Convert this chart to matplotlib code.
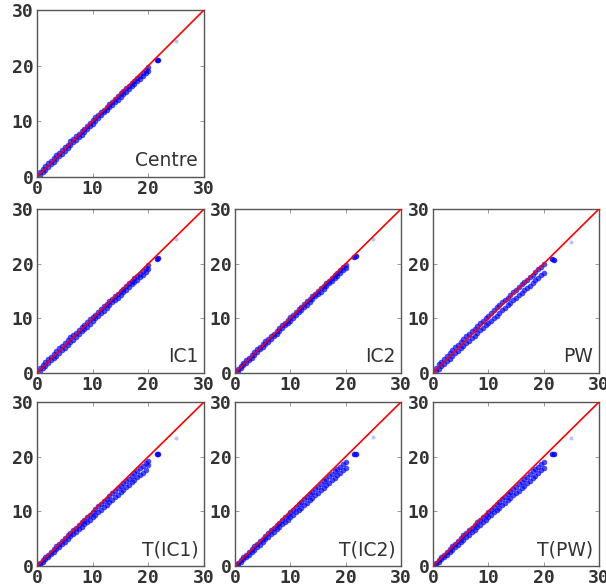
import matplotlib
matplotlib.use("Agg")
import matplotlib.pyplot as plt

xs = [0.5,1.0,1.5,2.0,2.5,3.0,3.5,4.0,4.5,5.0,5.5,6.0,6.5,7.0,7.5,8.0,8.5,9.0,9.5,10.0,
      10.5,11.0,11.5,12.0,12.5,13.0,13.5,14.0,14.5,15.0,15.5,16.0,16.5,17.0,17.5,18.0,18.5,19.0,19.5,20.0]
out_x = [21.5, 21.8, 25.0]

labels = ["Centre", "IC1", "IC2", "PW", "T(IC1)", "T(IC2)", "T(PW)"]

y_hi = {
 "Centre": [0.9,1.4,1.9,2.5,2.9,3.4,3.9,4.4,4.8,5.3,5.8,6.4,6.8,7.3,7.8,8.3,8.7,9.2,9.7,10.2,
            10.7,11.2,11.7,12.1,12.6,13.1,13.5,14.0,14.5,15.0,15.4,15.9,16.4,16.8,17.3,17.8,18.2,18.7,19.2,19.7],
 "IC1": [0.9,1.5,2.0,2.5,3.0,3.5,4.0,4.5,5.0,5.5,6.0,6.5,6.9,7.4,7.9,8.4,8.8,9.3,9.8,10.3,
         10.7,11.2,11.7,12.2,12.6,13.1,13.6,14.0,14.5,15.0,15.4,15.9,16.4,16.8,17.3,17.8,18.2,18.7,19.2,19.7],
 "IC2": [0.8,1.3,1.8,2.3,2.8,3.3,3.8,4.3,4.8,5.3,5.8,6.3,6.7,7.2,7.7,8.2,8.7,9.2,9.7,10.2,
         10.7,11.2,11.7,12.1,12.6,13.1,13.6,14.1,14.5,15.0,15.5,16.0,16.4,16.9,17.4,17.9,18.3,18.8,19.3,19.8],
 "PW": [1.0,1.6,2.1,2.6,3.1,3.6,4.2,4.7,5.2,5.7,6.2,6.7,7.2,7.7,8.1,8.6,9.1,9.6,10.1,10.5,
        11.0,11.5,12.0,12.4,12.9,13.4,13.8,14.3,14.8,15.2,15.7,16.2,16.6,17.1,17.6,18.0,18.5,19.0,19.4,19.9],
 "T(IC1)": [0.6,1.1,1.6,2.1,2.6,3.1,3.6,4.1,4.6,5.1,5.6,6.1,6.5,7.0,7.5,8.0,8.5,9.0,9.4,9.9,
            10.4,10.9,11.4,11.8,12.3,12.8,13.3,13.7,14.2,14.6,15.1,15.6,16.0,16.5,17.0,17.4,17.9,18.3,18.8,19.2],
 "T(IC2)": [0.6,1.1,1.6,2.1,2.6,3.1,3.6,4.1,4.6,5.0,5.5,6.0,6.5,7.0,7.5,7.9,8.4,8.9,9.4,9.8,
            10.3,10.8,11.3,11.7,12.2,12.7,13.1,13.6,14.1,14.5,15.0,15.5,15.9,16.4,16.8,17.3,17.8,18.2,18.7,19.1],
 "T(PW)": [0.6,1.1,1.6,2.1,2.6,3.1,3.6,4.1,4.6,5.1,5.6,6.0,6.5,7.0,7.5,8.0,8.4,8.9,9.4,9.9,
           10.3,10.8,11.3,11.7,12.2,12.7,13.1,13.6,14.1,14.5,15.0,15.4,15.9,16.3,16.8,17.3,17.7,18.2,18.7,19.1],
}

y_lo = {
 "Centre": [0.4,0.9,1.3,1.8,2.3,2.7,3.2,3.7,4.2,4.7,5.2,5.7,6.2,6.7,7.2,7.6,8.1,8.6,9.1,9.6,
            10.1,10.6,11.1,11.6,12.0,12.5,13.0,13.4,13.9,14.4,14.9,15.3,15.8,16.3,16.7,17.2,17.6,18.1,18.6,19.1],
 "IC1": [0.4,0.9,1.3,1.8,2.3,2.7,3.2,3.7,4.2,4.6,5.1,5.6,6.1,6.6,7.1,7.6,8.1,8.5,9.0,9.5,
         10.0,10.5,11.0,11.4,11.9,12.4,12.9,13.4,13.8,14.3,14.8,15.2,15.7,16.2,16.6,17.1,17.6,18.0,18.5,19.0],
 "IC2": [0.4,0.9,1.4,1.9,2.4,2.8,3.3,3.8,4.3,4.8,5.3,5.7,6.2,6.7,7.2,7.7,8.2,8.7,9.2,9.6,
         10.1,10.6,11.1,11.6,12.1,12.5,13.0,13.5,14.0,14.5,14.9,15.4,15.9,16.4,16.9,17.3,17.8,18.3,18.8,19.2],
 "PW": [0.3,0.8,1.2,1.7,2.2,2.6,3.1,3.6,4.0,4.5,5.0,5.4,5.9,6.4,6.8,7.3,7.8,8.2,8.7,9.2,
        9.6,10.1,10.5,11.0,11.5,11.9,12.4,12.8,13.3,13.8,14.2,14.7,15.1,15.6,16.0,16.5,17.0,17.4,17.9,18.3],
 "T(IC1)": [0.3,0.8,1.2,1.7,2.2,2.6,3.1,3.5,4.0,4.4,4.9,5.4,5.8,6.3,6.7,7.2,7.6,8.1,8.5,9.0,
            9.4,9.9,10.3,10.8,11.2,11.7,12.1,12.6,13.0,13.5,13.9,14.4,14.8,15.3,15.7,16.2,16.6,17.1,17.5,18.4],
 "T(IC2)": [0.3,0.8,1.2,1.7,2.1,2.6,3.0,3.5,3.9,4.4,4.9,5.3,5.8,6.2,6.7,7.1,7.6,8.0,8.5,8.9,
            9.4,9.8,10.3,10.7,11.2,11.6,12.1,12.5,13.0,13.4,13.9,14.3,14.8,15.2,15.7,16.1,16.6,17.0,17.5,18.0],
 "T(PW)": [0.3,0.8,1.2,1.7,2.1,2.6,3.0,3.5,3.9,4.4,4.8,5.3,5.7,6.2,6.6,7.1,7.5,8.0,8.4,8.9,
           9.3,9.8,10.2,10.7,11.1,11.6,12.0,12.5,12.9,13.4,13.8,14.3,14.7,15.2,15.6,16.1,16.5,17.0,17.5,18.0],
}

out_y = {
 "Centre": [21.0, 21.1, 24.4],
 "IC1": [20.9, 21.0, 24.5],
 "IC2": [21.2, 21.4, 24.5],
 "PW": [20.8, 20.6, 24.0],
 "T(IC1)": [20.4, 20.5, 23.5],
 "T(IC2)": [20.4, 20.5, 23.6],
 "T(PW)": [20.4, 20.5, 23.5],
}

ticks = [0, 10, 20, 30]
diag = [0, 30]

W, H = 606, 588
fig = plt.figure(figsize=(W / 100, H / 100), dpi=100)
cols = [(37, 204), (235, 401), (433, 599)]
rows = [(10, 177), (209, 373), (402, 566)]
positions = [(0, 0), (1, 0), (1, 1), (1, 2), (2, 0), (2, 1), (2, 2)]

tick_font = dict(family="DejaVu Sans Mono", weight="bold", size=13)

for lab, (r, c) in zip(labels, positions):
    x0, x1 = cols[c]
    y0, y1 = rows[r]
    ax = fig.add_axes([x0 / W, 1 - y1 / H, (x1 - x0) / W, (y1 - y0) / H])
    ax.scatter(xs, y_hi[lab], s=16, color="blue", alpha=0.7, linewidths=0, zorder=2)
    ax.scatter(xs, y_lo[lab], s=16, color="blue", alpha=0.7, linewidths=0, zorder=2)
    ax.scatter(out_x[:2], out_y[lab][:2], s=16, color="blue", alpha=0.85, linewidths=0, zorder=2)
    ax.scatter(out_x[2:], out_y[lab][2:], s=8, color="blue", alpha=0.25, linewidths=0, zorder=2)
    ax.plot(diag, diag, color="red", lw=1.2, zorder=3)
    ax.set_xlim(0, 30)
    ax.set_ylim(0, 30)
    ax.set_xticks(ticks)
    ax.set_yticks(ticks)
    ax.set_xticklabels([str(t) for t in ticks], **tick_font)
    ax.set_yticklabels([str(t) for t in ticks], **tick_font)
    ax.tick_params(direction="in", top=True, right=True, length=3, width=0.6,
                   color="#888888", pad=2.5, labelcolor="#333333")
    for sp in ax.spines.values():
        sp.set_color("#555555")
        sp.set_linewidth(1.0)
    ax.text(0.965, 0.04, lab, transform=ax.transAxes, ha="right", va="bottom",
            fontsize=13.5, family="DejaVu Sans", color="#333333")

fig.savefig("out.png", dpi=100)
